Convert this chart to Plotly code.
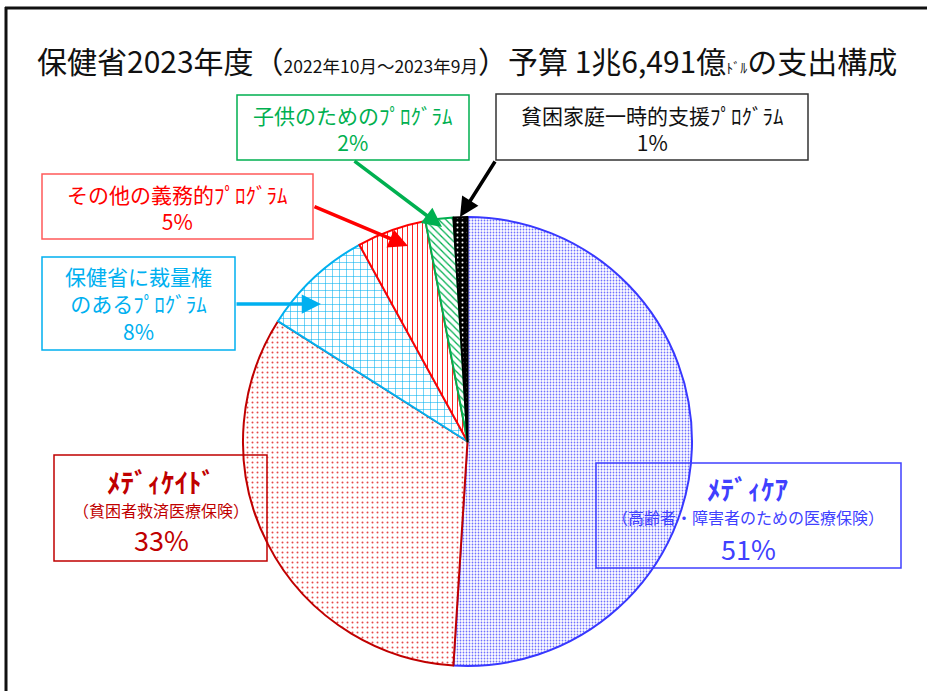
import plotly.graph_objects as go

W, H = 927, 691

# ---- data ----
categories = [
    "メディケア（高齢者・障害者のための医療保険）",
    "メディケイド（貧困者救済医療保険）",
    "保健省に裁量権のあるプログラム",
    "その他の義務的プログラム",
    "子供のためのプログラム",
    "貧困家庭一時的支援プログラム",
]
shares = [51, 33, 8, 5, 2, 1]
pct_labels = ["51%", "33%", "8%", "5%", "2%", "1%"]

line_colors = ["#3838FF", "#C00000", "#00B0F0", "#FF0000", "#00B050", "#000000"]
bg_colors = ["#FFFFFF", "#FFFFFF", "#FFFFFF", "#FFFFFF", "#FFFFFF", "#000000"]
fg_colors = ["#7070FF", "#E84848", "#00B0F0", "#FF2020", "#00B050", "#FFFFFF"]
shapes_pat = [".", ".", "+", "|", "\\", "."]
sizes_pat = [3, 5, 7, 5, 5, 5]
solid_pat = [0.28, 0.12, 0.15, 0.2, 0.25, 0.12]

FONT = "Noto Sans CJK JP"


def px(x):
    return x / W


def py(y):
    return 1 - y / H


fig = go.Figure()
fig.add_trace(go.Pie(
    labels=categories,
    values=shares,
    sort=False,
    direction="clockwise",
    rotation=0,
    textinfo="none",
    hoverinfo="label+percent",
    showlegend=False,
    domain=dict(x=[px(243), px(692)], y=[py(666), py(217)]),
    marker=dict(
        colors=bg_colors,
        line=dict(color=line_colors, width=2),
        pattern=dict(shape=shapes_pat, fgcolor=fg_colors, bgcolor=bg_colors,
                     size=sizes_pat, solidity=solid_pat, fillmode="replace"),
    ),
))

shapes = []
annotations = []

# outer frame (top and left edges)
shapes.append(dict(type="line", xref="paper", yref="paper", x0=px(5), x1=px(927), y0=py(8), y1=py(8),
                   line=dict(color="#111", width=3)))
shapes.append(dict(type="line", xref="paper", yref="paper", x0=px(6), x1=px(6), y0=py(7), y1=py(691),
                   line=dict(color="#111", width=3)))

# title
annotations.append(dict(
    xref="paper", yref="paper", x=px(467), y=py(60), xanchor="center", yanchor="middle",
    showarrow=False,
    text=("保健省2023年度（<span style='font-size:17.5px'>2022年10月～2023年9月</span>）予算 "
          "1兆6,491億<span style='font-size:14px'>ﾄﾞﾙ</span>の支出構成"),
    font=dict(family=FONT, size=30, color="#111"),
))

# label boxes: (x0, y0, x1, y1, border colour, text colour, text, font size, text center y)
boxes = [
    (237, 95, 469, 160, "#00B050", "#00B050", "子供のためのﾌﾟﾛｸﾞﾗﾑ<br>" + pct_labels[4], 21, 128),
    (496, 94, 808, 160, "#333333", "#111111", "貧困家庭一時的支援ﾌﾟﾛｸﾞﾗﾑ<br>" + pct_labels[5], 21, 128),
    (42, 174, 313, 239, "#FF5A5A", "#FF0000", "その他の義務的ﾌﾟﾛｸﾞﾗﾑ<br>" + pct_labels[3], 21, 207),
    (42, 257, 235, 350, "#00B0F0", "#00B0F0", "保健省に裁量権<br>のあるﾌﾟﾛｸﾞﾗﾑ<br>" + pct_labels[2], 21, 304),
]
for x0, y0, x1, y1, bc, tc, txt, fs, cy in boxes:
    shapes.append(dict(type="rect", xref="paper", yref="paper", x0=px(x0), x1=px(x1), y0=py(y1), y1=py(y0),
                       line=dict(color=bc, width=1.5)))
    annotations.append(dict(xref="paper", yref="paper", x=px((x0 + x1) / 2), y=py(cy),
                            xanchor="center", yanchor="middle", showarrow=False, text=txt,
                            font=dict(family=FONT, size=fs, color=tc)))

# big boxes (Medicaid, Medicare)
big = [
    (54, 455, 267, 561, "#C00000", "<b>ﾒﾃﾞｨｹｲﾄﾞ</b>", "（貧困者救済医療保険）", pct_labels[1], 161, [482, 510, 539]),
    (596, 463, 901, 568, "#4040FF", "<b>ﾒﾃﾞｨｹｱ</b>", "（高齢者・障害者のための医療保険）", pct_labels[0], 748, [488, 517, 548]),
]
for x0, y0, x1, y1, c, t1, t2, t3, cx, ys in big:
    shapes.append(dict(type="rect", xref="paper", yref="paper", x0=px(x0), x1=px(x1), y0=py(y1), y1=py(y0),
                       line=dict(color=c, width=1.5)))
    for t, s, yy in zip([t1, t2, t3], [27, 16, 27], ys):
        annotations.append(dict(xref="paper", yref="paper", x=px(cx), y=py(yy),
                                xanchor="center", yanchor="middle", showarrow=False, text=t,
                                font=dict(family=FONT, size=s, color=c)))

# arrows: (tail x, tail y, head x, head y, color)
arrows = [
    (353, 160, 442, 227, "#00B050"),
    (496, 160, 460, 217, "#000000"),
    (313, 206, 408, 246, "#FF0000"),
    (235, 304, 321, 304, "#00B0F0"),
]
for tx, ty, hx, hy, c in arrows:
    annotations.append(dict(xref="paper", yref="paper", x=px(hx), y=py(hy), ax=tx - hx, ay=ty - hy,
                            axref="pixel", ayref="pixel", text="", showarrow=True,
                            arrowhead=2, arrowsize=1.1, arrowwidth=3.5, arrowcolor=c))

fig.update_layout(
    width=W, height=H,
    margin=dict(l=0, r=0, t=0, b=0),
    paper_bgcolor="white", plot_bgcolor="white",
    shapes=shapes, annotations=annotations,
    font=dict(family=FONT),
)

fig.write_html("out.html", config={"displayModeBar": False},
               post_script="document.body.style.margin='0';")
